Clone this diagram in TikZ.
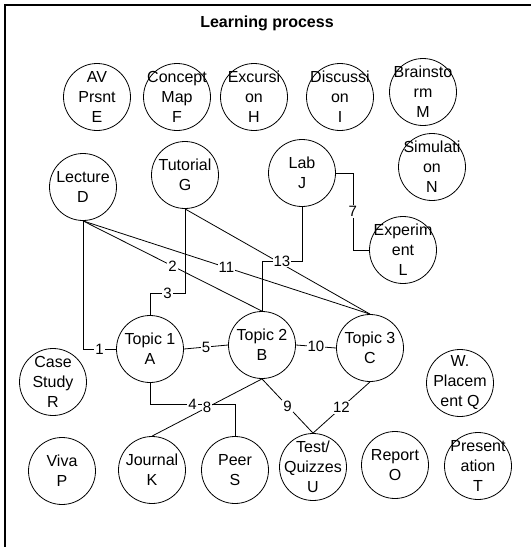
\documentclass[tikz,border=0pt]{standalone}
\usepackage{fontspec}
\setmainfont{Liberation Sans}

\begin{document}
\begin{tikzpicture}[
    x=1pt, y=-1pt,
    every node/.style={font=\fontsize{16}{20}\selectfont},
    topic/.style={circle, draw, line width=0.8pt, minimum size=67pt, inner sep=-10pt, align=center},
    num/.style={fill=white, inner sep=1pt, font=\fontsize{15}{17}\selectfont},
    link/.style={line width=0.8pt},
    frame/.style={line width=1.5pt},
]
    \useasboundingbox (0,0) rectangle (531,547);
    \draw[frame] (5,547) -- (5,5) -- (531,5);

    % --- title ---
    \node[font=\bfseries\fontsize{16}{19}\selectfont] (title) at (267,23) {Learning process};

    % --- activities, top rows ---
    \node[topic] (E) at (97,97)  {AV\\Prsnt\\E};
    \node[topic] (F) at (177,97) {Concept\\Map\\F};
    \node[topic] (H) at (254,97) {Excursi\\on\\H};
    \node[topic] (I) at (340,97) {Discussi\\on\\I};
    \node[topic] (M) at (423,92) {Brainsto\\rm\\M};

    \node[topic] (D) at (83,187)  {Lecture\\D};
    \node[topic] (G) at (185,175) {Tutorial\\G};
    \node[topic] (J) at (302,173) {Lab\\J};
    \node[topic] (N) at (432,167) {Simulati\\on\\N};
    \node[topic] (L) at (403,250) {Experim\\ent\\L};

    % --- topics row ---
    \node[topic] (A) at (150,349) {Topic 1\\A};
    \node[topic] (B) at (262,345) {Topic 2\\B};
    \node[topic] (C) at (370,348) {Topic 3\\C};
    \node[topic] (R) at (53,382)  {Case\\Study\\R};
    \node[topic] (Q) at (460,383) {W.\\Placem\\ent Q};

    % --- assessment row ---
    \node[topic] (P) at (62,471)  {Viva\\P};
    \node[topic] (K) at (152,470) {Journal\\K};
    \node[topic] (S) at (235,470) {Peer\\S};
    \node[topic] (U) at (313,467) {Test/\\Quizzes\\U};
    \node[topic] (O) at (395,465) {Report\\O};
    \node[topic] (T) at (478,466) {Present\\ation\\T};

    % --- links ---
    \draw[link] (G.south) -- (C.north);
    \draw[link] (D.south) -- (D.south |- A.west) -- node[num] {1} (A.west);
    \draw[link] (D.south) -- node[num] {2} (B.north);
    \draw[link] (D.south) -- node[num] {11} (C.north);
    \draw[link] (G.south) -- ++(0,84) coordinate (g3) -- node[num] {3} (g3 -| A.north) -- (A.north);
    \draw[link] (J.south) -- ++(0,54) coordinate (j13) -- node[num] {13} (j13 -| B.north) -- (B.north);
    \draw[link] (J.east) -- ++(17,0) coordinate (j7) -- node[num] {7} (j7 |- L.west) -- (L.west);

    \draw[link] (A.east) -- node[num] {5} (B.west);
    \draw[link] (B.east) -- node[num] {10} (C.west);

    \draw[link] (A.south) -- ++(0,21) coordinate (a4) -- node[num] {4} (a4 -| S.north) -- (S.north);
    \draw[link] (B.south) -- node[num] {8} (K.north);
    \draw[link] (B.south) -- node[num] {9} (U.north);
    \draw[link] (C.south) -- node[num] {12} (U.north);
\end{tikzpicture}
\end{document}
